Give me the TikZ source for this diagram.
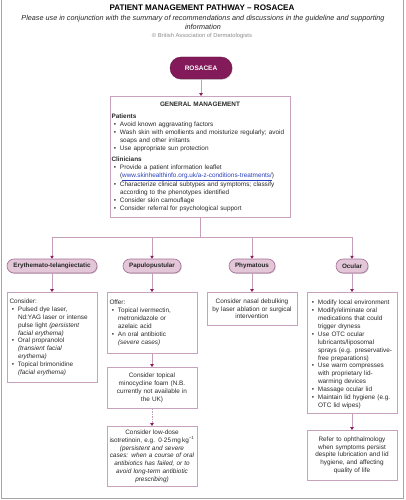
\documentclass[tikz,border=0pt]{standalone}
\usepackage{fontspec}
\setmainfont{Liberation Sans}
\usetikzlibrary{arrows.meta,shadows}
\definecolor{plum}{HTML}{831A59}
\definecolor{pillfill}{HTML}{E3C6D8}
\definecolor{pilldraw}{HTML}{A56E96}
\definecolor{boxdraw}{HTML}{C6A2BC}
\definecolor{linec}{HTML}{C59FBA}
\definecolor{tipc}{HTML}{8B1F5E}
\definecolor{urlc}{HTML}{2A3FBF}
\definecolor{txt}{HTML}{2A2A2A}
\newcommand\bit[1]{{\par\leftskip=8.5pt\noindent\llap{\textbullet\hspace{4pt}}#1\par}}
\newcommand\bodyfont{\fontsize{6.4}{7.9}\selectfont}
\tikzset{
  shad/.style={drop shadow={shadow xshift=0.8pt,shadow yshift=-0.9pt,opacity=0.3,fill=black!60}},
  mainpill/.style={shad,fill=plum,draw=plum!80!black,rounded corners=11pt,minimum width=62pt,minimum height=22pt,
    text=white,font=\bfseries\fontsize{6.5}{7}\selectfont,inner sep=0pt},
  catpill/.style={shad,fill=pillfill,draw=pilldraw,line width=0.6pt,rounded corners=7pt,minimum height=14pt,
    text=black!85,font=\bfseries\fontsize{6.3}{7}\selectfont,inner sep=0pt},
  box/.style={shad,fill=white,draw=boxdraw,line width=0.6pt,inner xsep=2.5pt,inner ysep=2pt,
    text width=85pt,minimum width=90pt,anchor=north,text=txt,font=\bodyfont},
  ln/.style={draw=linec,line width=0.6pt},
  arr/.style={ln,-{Triangle[width=3.4pt,length=2.8pt,color=tipc]}},
  darr/.style={arr,dashed,dash pattern=on 1.5pt off 1pt}
}
\begin{document}
\begin{tikzpicture}[x=1pt,y=-1pt]
\useasboundingbox (0,0) rectangle (405,500);
\fill[white] (0,0) rectangle (405,500);
\draw[black!35,line width=0.9pt] (1,0) -- (1,498.5) -- (403.5,498.5) -- (403.5,0);

\node[font=\bfseries\fontsize{8.1}{9}\selectfont] (title) at (202,8) {PATIENT MANAGEMENT PATHWAY – ROSACEA};
\node[font=\itshape\fontsize{7.25}{9.2}\selectfont,align=center,text=black!85] (sub) at (203,22.5)
  {Please use in conjunction with the summary of recommendations and discussions in the guideline and supporting\\information};
\node[font=\fontsize{5.8}{6.5}\selectfont,text=black!45] (copy) at (202,36.5) {© British Association of Dermatologists};

\node[mainpill] (ros) at (201,68) {ROSACEA};

\node[box,text width=177pt,minimum width=180pt,inner xsep=1.5pt,minimum height=121pt,align=left] (gm) at (200,96) {%
  \centering{\bfseries GENERAL MANAGEMENT}\par\vspace{4.5pt}
  \raggedright
  {\bfseries Patients}\par
  \bit{Avoid known aggravating factors}
  \bit{Wash skin with emollients and moisturize regularly; avoid\\soaps and other irritants}
  \bit{Use appropriate sun protection}
  \vspace{3.5pt}
  {\bfseries Clinicians}\par
  \bit{Provide a patient information leaflet\\({\color{urlc}\underline{www.skinhealthinfo.org.uk/a-z-conditions-treatments/}})}
  \bit{Characterize clinical subtypes and symptoms; classify\\according to the phenotypes identified}
  \bit{Consider skin camouflage}
  \bit{Consider referral for psychological support}};

\coordinate (hub) at (200,237);
\coordinate (h1) at (52,237);
\coordinate (h2) at (152,237);
\coordinate (h3) at (252,237);
\coordinate (h4) at (352,237);

\node[catpill,minimum width=90pt] (p1) at (52,266) {Erythemato-telangiectatic};
\node[catpill,minimum width=58pt] (p2) at (152,266) {Papulopustular};
\node[catpill,minimum width=46pt] (p3) at (252,266) {Phymatous};
\node[catpill,minimum width=32pt] (p4) at (352,266) {Ocular};

\node[box,minimum height=90pt,align=left] (et) at (52,292) {%
  \raggedright Consider:\par
  \bit{Pulsed dye laser,\\Nd:YAG laser or intense\\pulse light \textit{(persistent}\\\textit{facial erythema)}}
  \bit{Oral propranolol\\\textit{(transient facial}\\\textit{erythema)}}
  \bit{Topical brimonidine\\\textit{(facial erythema)}}};

\node[box,minimum height=61pt,align=left] (pp) at (152,292) {%
  \raggedright Offer:\par
  \bit{Topical ivermectin,\\metronidazole or\\azelaic acid}
  \bit{An oral antibiotic\\\textit{(severe cases)}}};

\node[box,minimum height=41pt,align=center] (mino) at (152,367)
  {Consider topical\\minocycline foam (N.B.\\currently not available in\\the UK)};

\node[box,minimum height=60pt,align=center,text width=88pt,inner xsep=1pt] (iso) at (152,426)
  {Consider low-dose\\isotretinoin, e.g. 0·25\,mg\,kg\textsuperscript{−1}\\\textit{(persistent and severe}\\\textit{cases: when a course of oral}\\\textit{antibiotics has failed, or to}\\\textit{avoid long-term antibiotic}\\\textit{prescribing)}};

\node[box,minimum height=33pt,align=center] (ph) at (252,292)
  {Consider nasal debulking\\by laser ablation or surgical\\intervention};

\node[box,minimum height=121pt,align=left] (oc) at (352,292) {%
  \raggedright
  \bit{Modify local environment}
  \bit{Modify/eliminate oral\\medications that could\\trigger dryness}
  \bit{Use OTC ocular\\lubricants/liposomal\\sprays (e.g. preservative-\\free preparations)}
  \bit{Use warm compresses\\with proprietary lid-\\warming devices}
  \bit{Massage ocular lid}
  \bit{Maintain lid hygiene (e.g.\\OTC lid wipes)}};

\node[box,minimum height=50pt,align=center] (oph) at (352,430)
  {Refer to ophthalmology\\when symptoms persist\\despite lubrication and lid\\hygiene, and affecting\\quality of life};

\draw[arr] (ros.south) -- (ros.south |- gm.north);
\draw[ln] (gm.south) -- (hub);
\draw[ln] (h1) -- (h4);
\draw[arr] (h1) -- (p1.north);
\draw[arr] (h2) -- (p2.north);
\draw[arr] (h3) -- (p3.north);
\draw[arr] (h4) -- (p4.north);
\draw[arr] (p1.south) -- (et.north);
\draw[arr] (p2.south) -- (pp.north);
\draw[arr] (p3.south) -- (ph.north);
\draw[arr] (p4.south) -- (oc.north);
\draw[arr] (pp.south) -- (mino.north);
\draw[darr] (mino.south) -- (iso.north);
\draw[arr] (oc.south) -- (oph.north);
\end{tikzpicture}
\end{document}
